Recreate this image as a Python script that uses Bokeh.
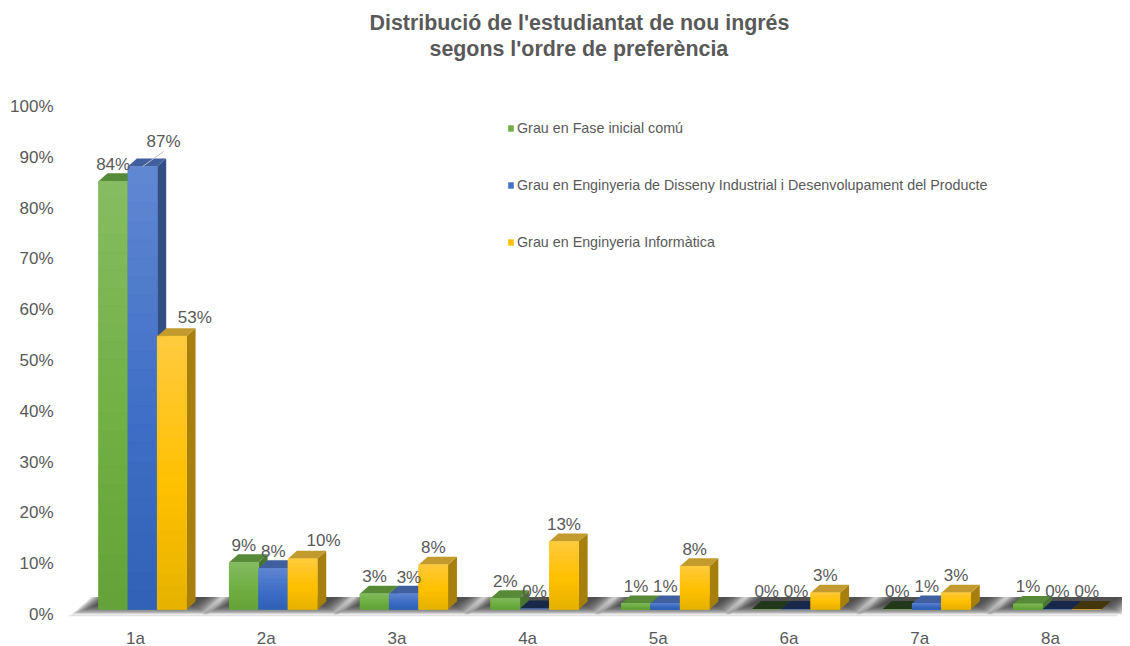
from bokeh.plotting import figure
from bokeh.models import ColumnDataSource, FixedTicker, Legend, LegendItem, NumeralTickFormatter, Title
from bokeh.core.properties import value
from bokeh.embed import file_html
from bokeh.resources import INLINE

# ---- data
categories = ["1a", "2a", "3a", "4a", "5a", "6a", "7a", "8a"]
series_names = ["Grau en Fase inicial comú",
                "Grau en Enginyeria de Disseny Industrial i Desenvolupament del Producte",
                "Grau en Enginyeria Informàtica"]
fase_inicial = [84.3, 9.3, 3.1, 2.2, 1.2, 0.1, 0.1, 1.1]
disseny = [87.2, 8.1, 3.1, 0.2, 1.2, 0.1, 1.2, 0.1]
informatica = [53.8, 10.0, 8.8, 13.4, 8.5, 3.3, 3.3, 0.1]
labels_fase = ["84%", "9%", "3%", "2%", "1%", "0%", "0%", "1%"]
labels_disseny = ["87%", "8%", "3%", "0%", "1%", "0%", "1%", "0%"]
labels_info = ["53%", "10%", "8%", "13%", "8%", "3%", "3%", "0%"]
y_ticks = list(range(0, 101, 10))
title_lines = ["Distribució de l'estudiantat de nou ingrés", "segons l'ordre de preferència"]

# ---- styles
FONT = "Liberation Sans"
TEXT = "#595959"
front_stops = [("#86BC62", "#70B044", "#63A238"),
               ("#6188D2", "#3F6FC6", "#2F62B6"),
               ("#FFCB40", "#FFC000", "#E6B200")]
mid_colors = ["#70AD47", "#4472C4", "#FFC000"]
top_colors = ["#578A37", "#3F5F9E", "#C39A2E"]
side_colors = ["#4A7530", "#324F85", "#A67F0C"]
dark_top = ["#22381A", "#17284A", "#44360C"]
dark_side = ["#22381A", "#17284A", "#44360C"]

# ---- scale: pixels per unit, used to turn fixed pixel depths into data units
PX_X = 130.7
PX_Y = 5.08
FRAME_L, FRAME_R, FRAME_T, FRAME_B = 68, 1122, 60, 619
TICK0_PX, ZERO_PX = 135, 614
px_w = lambda d: d / PX_X
px_h = lambda d: d / PX_Y
BAR_W = px_w(29.35)
GROUP_SHIFT = px_w(-37)      # first bar left edge relative to the tick
FLOOR = px_h(5)              # front bar base above the tick of 0 %
DX, DY = px_w(9), px_h(8)


def lerp(c1, c2, t):
    a = [int(c1[i:i + 2], 16) for i in (1, 3, 5)]
    b = [int(c2[i:i + 2], 16) for i in (1, 3, 5)]
    return "#%02x%02x%02x" % tuple(round(a[k] + (b[k] - a[k]) * t) for k in range(3))


def grad(stops, t):  # t: 0 top .. 1 bottom
    if t < 0.55:
        return lerp(stops[0], stops[1], t / 0.55)
    return lerp(stops[1], stops[2], (t - 0.55) / 0.45)


p = figure(frame_width=FRAME_R - FRAME_L, frame_height=FRAME_B - FRAME_T,
           x_range=(1 + (FRAME_L - TICK0_PX) / PX_X, 1 + (FRAME_R - TICK0_PX) / PX_X),
           y_range=((ZERO_PX - FRAME_B) / PX_Y, (ZERO_PX - FRAME_T) / PX_Y),
           output_backend="svg", toolbar_location=None, min_border_left=FRAME_L,
           min_border_right=0, min_border_top=FRAME_T, min_border_bottom=0,
           background_fill_color="white", border_fill_color="white", outline_line_color=None)
p.grid.visible = False
p.title.visible = False
title_offsets = [301, 361]
for line, off in reversed(list(zip(title_lines, title_offsets))):
    t = Title(text=line, text_font=FONT, text_font_size="21.4px", text_color=TEXT,
              text_font_style="bold", align="left", offset=off, standoff=0, text_line_height=1.0)
    p.add_layout(t, "above")

for ax in (p.xaxis[0], p.yaxis[0]):
    ax.axis_line_color = None
    ax.major_tick_line_color = None
    ax.minor_tick_line_color = None
    ax.major_tick_out = 0
    ax.major_tick_in = 0
    ax.minor_tick_out = 0
    ax.minor_tick_in = 0
    ax.major_label_text_font = FONT
    ax.major_label_text_font_size = "17px"
    ax.major_label_text_color = TEXT
p.xaxis[0].ticker = FixedTicker(ticks=list(range(1, len(categories) + 1)))
p.xaxis[0].major_label_overrides = {i + 1: c for i, c in enumerate(categories)}
p.xaxis[0].major_label_standoff = 9
p.yaxis[0].ticker = FixedTicker(ticks=y_ticks)
p.yaxis[0].formatter = NumeralTickFormatter(format="0%")
p.yaxis[0].major_label_overrides = {t: f"{t}%" for t in y_ticks}
p.yaxis[0].major_label_standoff = 15

# floor line
p.segment(x0=[1 + px_w(-67)], x1=[1 + px_w(982)], y0=[-px_h(1)], y1=[-px_h(1)],
          line_color="#E2E2E2", line_width=1.5)

# floor shadows: nested parallelograms fading outwards
for i in range(len(categories)):
    c = i + 1
    for k in range(14):
        inset = k * 2.0
        xl_b = c + px_w(-64 + inset * 1.0)
        xr_b = c + px_w(72 - inset * 0.6)
        xl_t = c + px_w(-44 + inset * 0.7)
        xr_t = c + px_w(88 - inset * 0.7)
        yb = FLOOR - px_h(5 - k * 0.75)
        yt = FLOOR + px_h(12.5)
        p.patch([xl_b, xr_b, xr_t, xl_t], [yb, yb, yt, yt], fill_color="#333333",
                fill_alpha=0.13, line_color=None)

all_values = [fase_inicial, disseny, informatica]
all_labels = [labels_fase, labels_disseny, labels_info]
legend_items = []
SLICES = 24
for s, vals in enumerate(all_values):
    lefts = [i + 1 + GROUP_SHIFT + s * BAR_W for i in range(len(vals))]
    rights = [l + BAR_W for l in lefts]
    tops = [FLOOR + v for v in vals]
    low = [v < 0.5 for v in vals]
    # side faces
    p.patches(xs=[[r, r + DX, r + DX, r] for r in rights],
              ys=[[FLOOR, FLOOR + DY, t + DY, t] for t in tops],
              fill_color=[dark_side[s] if z else side_colors[s] for z in low], line_color=None)
    # top faces
    p.patches(xs=[[l, r, r + DX, l + DX] for l, r in zip(lefts, rights)],
              ys=[[t, t, t + DY, t + DY] for t in tops],
              fill_color=[dark_top[s] if z else top_colors[s] for z in low], line_color=None)
    # solid front (also the legend's glyph)
    base = p.quad(left=lefts, right=rights, top=tops, bottom=[FLOOR] * len(vals),
                  fill_color=mid_colors[s], line_color=None)
    legend_items.append(LegendItem(label=series_names[s], renderers=[base]))
    # front gradient
    src = {"l": [], "r": [], "t": [], "b": [], "c": []}
    for l, r, t, v in zip(lefts, rights, tops, vals):
        if v < 0.5:
            continue
        for k in range(SLICES):
            src["l"].append(l)
            src["r"].append(r)
            src["t"].append(t - v * k / SLICES)
            src["b"].append(t - v * (k + 1) / SLICES)
            src["c"].append(grad(front_stops[s], (k + 0.5) / SLICES))
    p.quad(left="l", right="r", top="t", bottom="b", fill_color="c", line_color="c",
           line_width=0.4, source=ColumnDataSource(src))

# value labels
label_nudges = {(0, 1): (21, -8), (0, 2): (23, -2), (1, 2): (21, -1), (2, 1): (5, 1)}
xs, ys, txt, xo, yo = [], [], [], [], []
for s, vals in enumerate(all_values):
    for i, v in enumerate(vals):
        dx, dy = label_nudges.get((i, s), (0, 0))
        xs.append(i + 1 + GROUP_SHIFT + (s + 0.5) * BAR_W)
        ys.append(FLOOR + v)
        txt.append(all_labels[s][i])
        xo.append(dx)
        yo.append(-17 + dy)
p.text(x="x", y="y", text="t", x_offset="xo", y_offset="yo", text_font=value(FONT),
       text_font_size="17px", text_color=TEXT, text_align="center", text_baseline="middle",
       source=ColumnDataSource(dict(x=xs, y=ys, t=txt, xo=xo, yo=yo)))

# leader line of the 87 % label
lx = 1 + GROUP_SHIFT + 1.5 * BAR_W
ly = FLOOR + disseny[0]
p.segment(x0=[lx], y0=[ly], x1=[lx + px_w(21)], y1=[ly + px_h(15)], line_color="#BFBFBF", line_width=1)

legend = Legend(items=legend_items, location=(507 - FRAME_L, 619 - 250), orientation="vertical",
                background_fill_alpha=0, border_line_color=None, margin=0, padding=0,
                glyph_width=7, glyph_height=8, label_text_font=FONT, label_text_font_size="14.3px",
                label_text_color=TEXT, label_height=15, label_standoff=3, spacing=41)
p.add_layout(legend)

open("out.html", "w").write(file_html(p, INLINE))
